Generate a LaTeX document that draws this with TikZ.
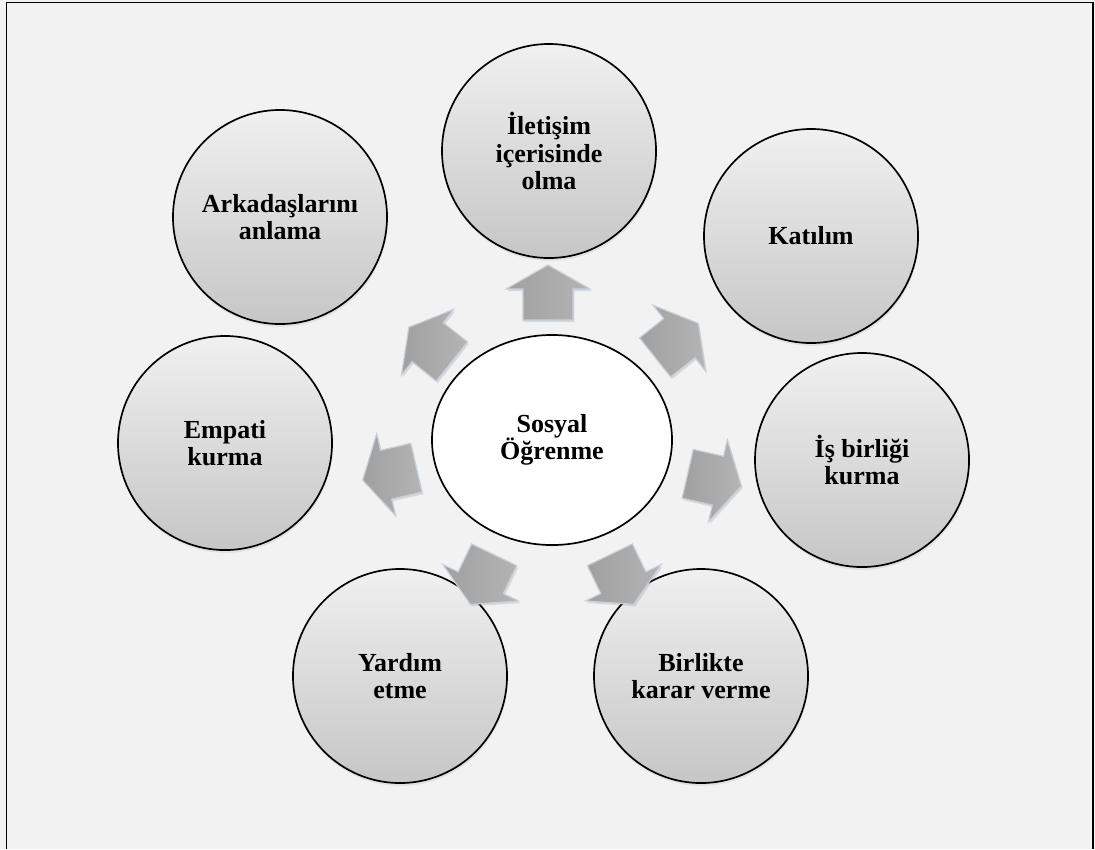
\documentclass[tikz,border=0pt]{standalone}
\usepackage{fontspec}
\setmainfont{Liberation Serif}
\usetikzlibrary{shadows,shapes.geometric}
\definecolor{pagebg}{HTML}{F2F2F2}
\definecolor{bubbletop}{HTML}{F0F0F0}
\definecolor{bubblebot}{HTML}{C6C6C6}
\definecolor{arrowdark}{HTML}{A0A0A0}
\definecolor{arrowlight}{HTML}{B4B4B4}
\definecolor{arrowedge}{HTML}{C4D0DD}
\tikzset{
  bubble/.style={circle, draw=black, line width=1.2pt, minimum size=5.35cm,
    inner sep=0pt, top color=bubbletop, bottom color=bubblebot,
    align=center, font=\bfseries\fontsize{18.5}{19.5}\selectfont,
    drop shadow={opacity=0.15, shadow xshift=0.5pt, shadow yshift=-2pt}},
  hub/.style={ellipse, draw=black, line width=1.2pt, minimum width=6cm,
    minimum height=5.25cm, inner sep=0pt, fill=white, align=center,
    font=\bfseries\fontsize{18.5}{19.5}\selectfont},
  arrowbody/.style={draw=arrowedge, line width=0.8pt, line join=miter,
    left color=arrowdark, right color=arrowlight,
    drop shadow={opacity=0.22, shadow xshift=1pt, shadow yshift=-1.5pt}},
}
\begin{document}
\begin{tikzpicture}[x=0.025cm,y=-0.025cm]
  \useasboundingbox (0,0) rectangle (1095,849);
  \fill[pagebg] (0,0) rectangle (1095,849);
  % frame
  \draw[line width=1.4pt] (6.5,849) -- (6.5,2.5) -- (1093,2.5) -- (1093,849);

  % outer topics
  \node[bubble] (n1) at (549,151) {İletişim\\içerisinde\\olma};
  \node[bubble] (n2) at (811,236) {Katılım};
  \node[bubble] (n3) at (862,460) {İş birliği\\kurma};
  \node[bubble] (n4) at (701,676) {Birlikte\\karar verme};
  \node[bubble] (n5) at (400,676) {Yardım\\etme};
  \node[bubble] (n6) at (225,443) {Empati\\kurma};
  \node[bubble] (n7) at (280,217) {Arkadaşlarını\\anlama};

  % central topic
  \node[hub] (ctr) at (552,440) {Sosyal\\Öğrenme};

  % radial block arrows
  \foreach \px/\py/\ang in {548/292/90, 677/340/38.6, 715/480/-12.9,
      622/580/-64.3, 482/580/-115.7, 389/474/192.9, 430/344/141.4} {
    \path[arrowbody, shift={(\px,\py)}, rotate=\ang]
      (-28,-25) -- (3,-25) -- (3,-42) -- (27,0) -- (3,42) -- (3,25)
      -- (-28,25) -- cycle;
  }
\end{tikzpicture}
\end{document}
